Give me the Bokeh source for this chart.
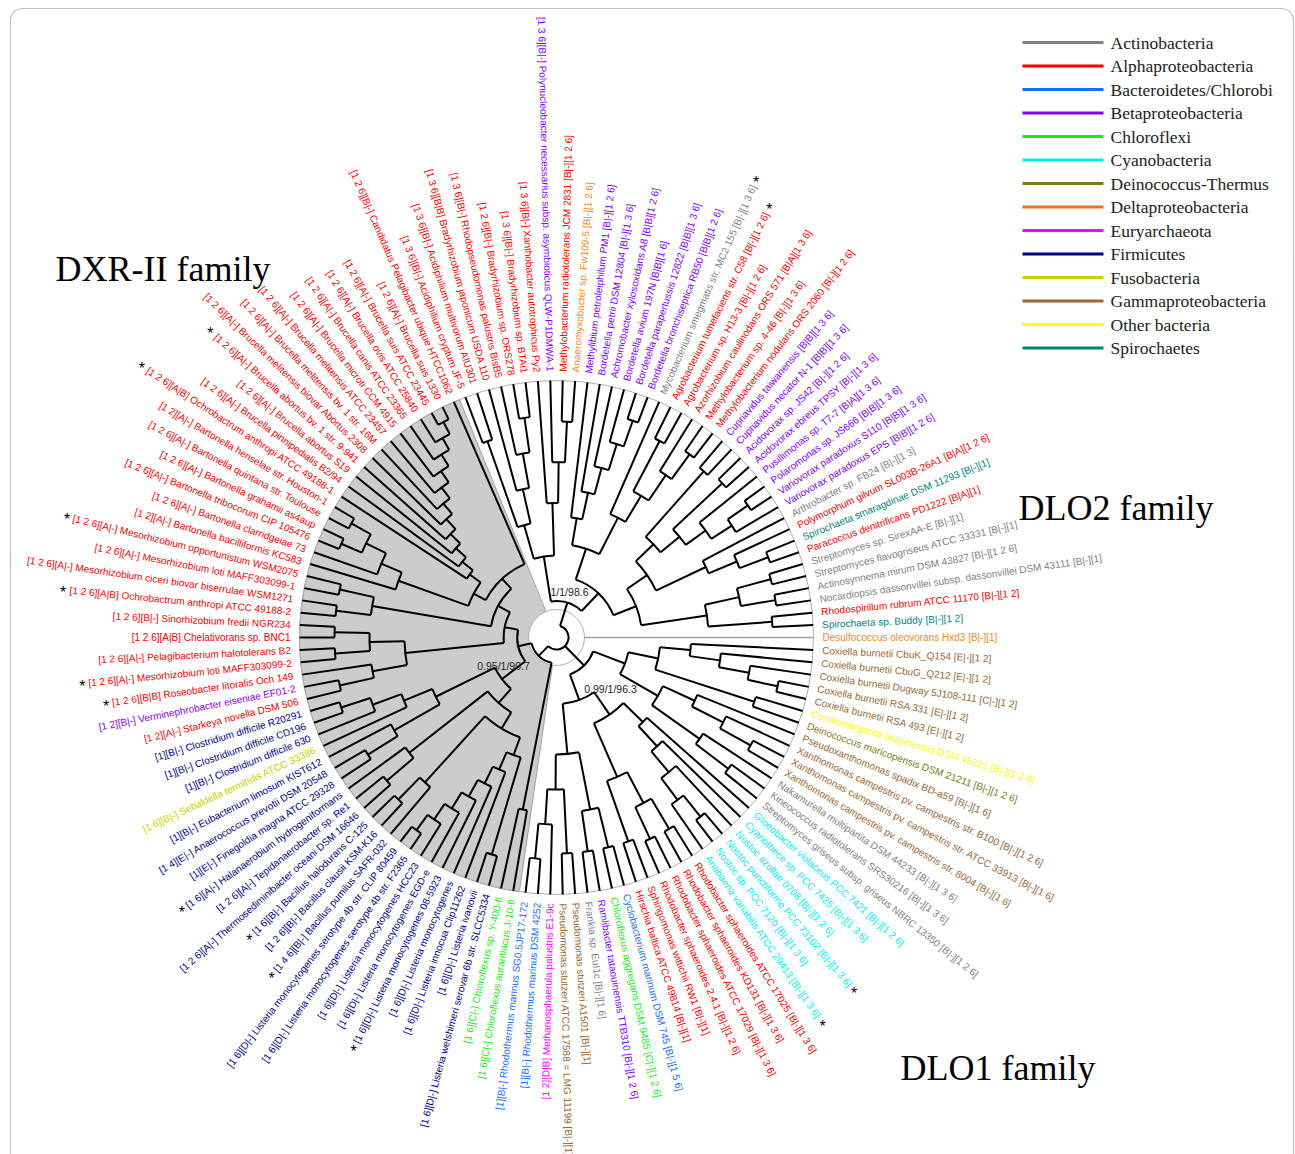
import math
from bokeh.plotting import figure
from bokeh.models import Range1d, BoxAnnotation
from bokeh.embed import file_html
from bokeh.resources import INLINE
from bokeh.core.properties import value

# ---------------- data ----------------
taxa = [
    # 1-10
    "Methylobacterium radiotolerans JCM 2831", "Anaeromyxobacter sp. Fw109-5", "Methylibium petroleiphilum PM1",
    "Bordetella petrii DSM 12804", "Achromobacter xylosoxidans A8", "Bordetella avium 197N",
    "Bordetella parapertussis 12822", "Bordetella bronchiseptica RB50", "Mycobacterium smegmatis str. MC2 155",
    "Agrobacterium tumefaciens str. C58",
    # 11-20
    "Agrobacterium sp. H13-3", "Azorhizobium caulinodans ORS 571", "Methylobacterium sp. 4-46",
    "Methylobacterium nodulans ORS 2060", "Cupriavidus taiwanensis", "Cupriavidus necator N-1",
    "Acidovorax sp. JS42", "Acidovorax ebreus TPSY", "Pusillimonas sp. T7-7", "Polaromonas sp. JS666",
    # 21-30
    "Variovorax paradoxus S110", "Variovorax paradoxus EPS", "Arthrobacter sp. FB24",
    "Polymorphum gilvum SL003B-26A1", "Spirochaeta smaragdinae DSM 11293", "Paracoccus denitrificans PD1222",
    "Streptomyces sp. SirexAA-E", "Streptomyces flavogriseus ATCC 33331", "Actinosynnema mirum DSM 43827",
    "Nocardiopsis dassonvillei subsp. dassonvillei DSM 43111",
    # 31-40
    "Rhodospirillum rubrum ATCC 11170", "Spirochaeta sp. Buddy", "Desulfococcus oleovorans Hxd3",
    "Coxiella burnetii CbuK_Q154", "Coxiella burnetii CbuG_Q212", "Coxiella burnetii Dugway 5J108-111",
    "Coxiella burnetii RSA 331", "Coxiella burnetii RSA 493", "Coraliomargarita akajimensis DSM 45221",
    "Deinococcus maricopensis DSM 21211",
    # 41-50
    "Pseudoxanthomonas spadix BD-a59", "Xanthomonas campestris pv. campestris str. B100",
    "Xanthomonas campestris pv. campestris str. ATCC 33913", "Xanthomonas campestris pv. campestris str. 8004",
    "Nakamurella multipartita DSM 44233", "Kineococcus radiotolerans SRS30216",
    "Streptomyces griseus subsp. griseus NBRC 13350", "Gloeobacter violaceus PCC 7421",
    "Cyanothece sp. PCC 7425", "Nostoc azollae 0708",
    # 51-60
    "Nostoc punctiforme PCC 73102", "Nostoc sp. PCC 7120", "Anabaena variabilis ATCC 29413",
    "Rhodobacter sphaeroides ATCC 17025", "Rhodobacter sphaeroides KD131", "Rhodobacter sphaeroides ATCC 17029",
    "Rhodobacter sphaeroides 2.4.1", "Sphingomonas wittichii RW1", "Hirschia baltica ATCC 49814",
    "Cyclobacterium marinum DSM 745",
    # 61-70
    "Chloroflexus aggregans DSM 9485", "Ramlibacter tataouinensis TTB310", "Frankia sp. EuI1c",
    "Pseudomonas stutzeri A1501", "Pseudomonas stutzeri ATCC 17588 = LMG 11199", "Methanosphaerula palustris E1-9c",
    "Rhodothermus marinus DSM 4252", "Rhodothermus marinus SG0.5JP17-172", "Chloroflexus aurantiacus J-10-fl",
    "Chloroflexus sp. Y-400-fl",
    # 71-80
    "Listeria welshimeri serovar 6b str. SLCC5334", "Listeria ivanovii", "Listeria innocua Clip11262",
    "Listeria monocytogenes", "Listeria monocytogenes 08-5923", "Listeria monocytogenes EGD-e",
    "Listeria monocytogenes HCC23", "Listeria monocytogenes serotype 4b str. F2365",
    "Listeria monocytogenes serotype 4b str. CLIP 80459", "Bacillus pumilus SAFR-032",
    # 81-90
    "Bacillus clausii KSM-K16", "Bacillus halodurans C-125", "Thermosediminibacter oceani DSM 16646",
    "Tepidanaerobacter sp. Re1", "Halanaerobium hydrogeniformans", "Finegoldia magna ATCC 29328",
    "Anaerococcus prevotii DSM 20548", "Eubacterium limosum KIST612", "Sebaldella termitidis ATCC 33386",
    "Clostridium difficile 630",
    # 91-100
    "Clostridium difficile CD196", "Clostridium difficile R20291", "Starkeya novella DSM 506",
    "Verminephrobacter eiseniae EF01-2", "Roseobacter litoralis Och 149", "Mesorhizobium loti MAFF303099-2",
    "Pelagibacterium halotolerans B2", "Chelativorans sp. BNC1", "Sinorhizobium fredii NGR234",
    "Ochrobactrum anthropi ATCC 49188-2",
    # 101-110
    "Mesorhizobium ciceri biovar biserrulae WSM1271", "Mesorhizobium loti MAFF303099-1",
    "Mesorhizobium opportunistum WSM2075", "Bartonella bacilliformis KC583", "Bartonella clarridgeiae 73",
    "Bartonella tribocorum CIP 105476", "Bartonella grahamii as4aup", "Bartonella quintana str. Toulouse",
    "Bartonella henselae str. Houston-1", "Ochrobactrum anthropi ATCC 49188-1",
    # 111-120
    "Brucella pinnipedialis B2/94", "Brucella abortus S19", "Brucella abortus bv. 1 str. 9-941",
    "Brucella melitensis biovar Abortus 2308", "Brucella melitensis bv. 1 str. 16M",
    "Brucella melitensis ATCC 23457", "Brucella microti CCM 4915", "Brucella canis ATCC 23365",
    "Brucella ovis ATCC 25840", "Brucella suis ATCC 23445",
    # 121-130
    "Brucella suis 1330", "Candidatus Pelagibacter ubique HTCC1062", "Acidiphilium cryptum JF-5",
    "Acidiphilium multivorum AIU301", "Bradyrhizobium japonicum USDA 110", "Rhodopseudomonas palustris BisB5",
    "Bradyrhizobium sp. ORS278", "Bradyrhizobium sp. BTAi1", "Xanthobacter autotrophicus Py2",
    "Polynucleobacter necessarius subsp. asymbioticus QLW-P1DMWA-1",
]

domains = (
    ["B|-", "B|-", "B|-", "B|-", "B|B", "B|B", "B|B", "B|B", "B|-", "B|-"] +
    ["B|-", "B|A", "B|-", "B|-", "B|B", "B|B", "B|-", "B|-", "B|A", "B|B"] +
    ["B|B", "B|B", "B|-", "B|A", "B|-", "B|A", "B|-", "B|-", "B|-", "B|-"] +
    ["B|-", "B|-", "B|-", "E|-", "E|-", "C|-", "E|-", "E|-", "B|-", "B|-"] +
    ["B|-"] * 10 +
    ["B|-"] * 10 +
    ["C|-", "B|-", "B|-", "B|-", "B|-", "D|B", "B|-", "B|-", "C|-", "C|-"] +
    ["D|-"] * 9 + ["B|-"] +
    ["B|-", "B|-", "A|-", "A|-", "A|-", "E|-", "E|-", "B|-", "B|-", "B|-"] +
    ["B|-", "B|-", "A|-", "B|-", "B|B", "A|-", "A|-", "A|B", "B|-", "A|B"] +
    ["A|-"] * 9 + ["A|B"] +
    ["A|-"] * 10 +
    ["A|-", "B|-", "B|-", "B|-", "B|B", "B|-", "B|-", "B|-", "B|-", "B|-"]
)

motifs = (
    ["1 2 6", "1 2 6", "1 2 6", "1 3 6", "1 2 6", "1 6", "1 3 6", "1 2 6", "1 3 6", "1 2 6"] +
    ["1 2 6", "1 3 6", "1 3 6", "1 2 6", "1 3 6", "1 3 6", "1 2 6", "1 3 6", "1 3 6", "1 3 6"] +
    ["1 3 6", "1 2 6", "1 3", "1 2 6", "1", "1", "1", "1", "1 2 6", "1"] +
    ["1 2", "1 2", "1", "1 2", "1 2", "1 2", "1 2", "1 2", "1 2 6", "1 2 6"] +
    ["1 6", "1 2 6", "1 6", "1 6", "1 3 6", "1 3 6", "1 2 6", "1 2 6", "1 3 6", "1 2 6"] +
    ["1 3 6", "1 3 6", "1 3 6", "1 3 6", "1 3 6", "1 3 6", "1 2 6", "1", "1", "1 5 6"] +
    ["1 2 6", "1 2 6", "1 6", "1", "1", "1 2", "1", "1", "1 6", "1 6"] +
    ["1 6"] * 9 + ["1 4 6"] +
    ["1 2 6", "1 6", "1 2 6", "1 2 6", "1 6", "1", "1 4", "1", "1 6", "1"] +
    ["1", "1", "1 2", "1 2", "1 2 6", "1 2 6", "1 2 6", "1 2 6", "1 2 6", "1 2 6"] +
    ["1 2 6", "1 2 6", "1 2 6", "1 2", "1 2 6", "1 2 6", "1 2 6", "1 2 6", "1 2", "1 2 6"] +
    ["1 2 6"] * 10 +
    ["1 2 6", "1 2 6", "1 3 6", "1 3 6", "1 3 6", "1 3 6", "1 2 6", "1 3 6", "1 3 6", "1 3 6"]
)

phyla = (
    ["Alp", "Del", "Bet", "Bet", "Bet", "Bet", "Bet", "Bet", "Act", "Alp"] +
    ["Alp", "Alp", "Alp", "Alp", "Bet", "Bet", "Bet", "Bet", "Bet", "Bet"] +
    ["Bet", "Bet", "Act", "Alp", "Spi", "Alp", "Act", "Act", "Act", "Act"] +
    ["Alp", "Spi", "Del", "Gam", "Gam", "Gam", "Gam", "Gam", "Oth", "Dei"] +
    ["Gam", "Gam", "Gam", "Gam", "Act", "Act", "Act", "Cya", "Cya", "Cya"] +
    ["Cya", "Cya", "Cya", "Alp", "Alp", "Alp", "Alp", "Alp", "Alp", "Bac"] +
    ["Chl", "Bet", "Act", "Gam", "Gam", "Eur", "Bac", "Bac", "Chl", "Chl"] +
    ["Fir"] * 10 +
    ["Fir"] * 8 + ["Fus", "Fir"] +
    ["Fir", "Fir", "Alp", "Bet", "Alp", "Alp", "Alp", "Alp", "Alp", "Alp"] +
    ["Alp"] * 10 +
    ["Alp"] * 10 +
    ["Alp"] * 9 + ["Bet"]
)

starred = [9, 10, 51, 53, 75, 80, 82, 85, 95, 96, 100, 103, 110, 113]

legend_keys = ["Act", "Alp", "Bac", "Bet", "Chl", "Cya", "Dei", "Del", "Eur", "Fir", "Fus", "Gam", "Oth", "Spi"]
legend_names = ["Actinobacteria", "Alphaproteobacteria", "Bacteroidetes/Chlorobi", "Betaproteobacteria",
                "Chloroflexi", "Cyanobacteria", "Deinococcus-Thermus", "Deltaproteobacteria", "Euryarchaeota",
                "Firmicutes", "Fusobacteria", "Gammaproteobacteria", "Other bacteria", "Spirochaetes"]
legend_colors = ["#808080", "#ff0000", "#1a6ef5", "#8000ff", "#1ee61e", "#00f0f0", "#7a7a14",
                 "#e8741c", "#ff00ff", "#000080", "#cccc00", "#996633", "#ffff00", "#008080"]
label_color = dict(zip(legend_keys, legend_colors))
label_color["Del"] = "#f58a1e"

family_names = ["DXR-II family", "DLO2 family", "DLO1 family"]
support_values = ["1/1/98.6", "0.95/1/90.7", "0.99/1/96.3"]

# tree topology (leaf numbers)
listeria = [[71, 72], [73, [74, [75, [76, [77, [78, 79]]]]]]]
bacillus = [80, [81, 82]]
firm = [[[listeria, bacillus], [[83, 84], 85]], [[[86, 87], 88], [89, [90, [91, 92]]]]]
barton = [104, [105, [[106, 107], [108, 109]]]]
brucella = [110, [111, [112, [113, [114, [115, [116, [117, [118, [119, [120, 121]]]]]]]]]]]
alpha = [[[[93, 94], 95], [[96, 97], [98, 99]]], [[[100, 101], [102, 103]], [[barton, brucella], 122]]]
dxr = [[69, 70], [firm, alpha]]
dlo2 = [[[[123, 124], [125, [126, [127, 128]]]], [129, [130, [1, 2]]]],
        [[[3, [4, [5, [6, [7, 8]]]]], [9, [[10, 11], [12, [13, 14]]]]],
         [[[[15, 16], [[17, 18], [19, [[20, 21], 22]]]], [23, [24, [25, 26]]]],
          [[[27, 28], [29, 30]], [31, 32]]]]]
dlo1 = [[[[34, [35, [36, [37, 38]]]], [39, 40]], [[41, [42, [43, 44]]], [45, [46, 47]]]],
        [[[48, [49, [50, [[51, 52], 53]]]], [[[54, 55], [56, 57]], [58, 59]]],
         [[[60, 61], [62, 63]], [[64, 65], [66, [67, 68]]]]]]
tree = [dlo2, 33, dlo1, dxr]
shaded_first, shaded_last = 69, 122
wrap_start = 123
gray_leaf = 33

# ---------------- layout ----------------
N = len(taxa)
assert len(domains) == N and len(motifs) == N and len(phyla) == N
W, H = 1295, 1154
CX, CY = 556, H - 637
R_TIP, R_LAB, R_ROOT, R_CORE = 257, 266, 12, 28
STEP = 360.0 / N

def leaf_angle(i):
    d = 90.0 - (i - 0.5) * STEP
    if i >= wrap_start:
        d += 360.0
    return math.radians(d)

def height(n):
    return 0 if isinstance(n, int) else 1 + max(height(c) for c in n)

arcs, segs, gsegs = [], [], []

def place(n, depth):
    if isinstance(n, int):
        return leaf_angle(n), R_TIP
    h = height(n)
    r = R_ROOT + (R_TIP - R_ROOT) * depth / (depth + h)
    kids = [(c, place(c, depth + 1)) for c in n]
    angs = [k[1][0] for k in kids]
    arcs.append((r, min(angs), max(angs)))
    for c, (ca, cr) in kids:
        if c == gray_leaf:
            gsegs.append((ca, R_CORE, cr))
        else:
            segs.append((ca, r, cr))
    return (min(angs) + max(angs)) / 2, r

place(tree, 0)

AW = {' ': 278, '-': 333, '.': 278, '/': 278, '[': 278, ']': 278, '|': 260, '_': 556, '=': 584,
      'A': 667, 'B': 667, 'C': 722, 'D': 722, 'E': 667, 'F': 611, 'G': 778, 'H': 722, 'I': 278, 'J': 500,
      'K': 667, 'L': 556, 'M': 833, 'N': 722, 'O': 778, 'P': 667, 'Q': 778, 'R': 722, 'S': 667, 'T': 611,
      'U': 722, 'V': 667, 'W': 944, 'X': 667, 'Y': 667, 'Z': 611,
      'a': 556, 'b': 556, 'c': 500, 'd': 556, 'e': 556, 'f': 278, 'g': 556, 'h': 556, 'i': 222, 'j': 222,
      'k': 500, 'l': 222, 'm': 833, 'n': 556, 'o': 556, 'p': 556, 'q': 556, 'r': 333, 's': 500, 't': 278,
      'u': 556, 'v': 500, 'w': 722, 'x': 500, 'y': 500, 'z': 500}
FS = 10.0

def text_w(s):
    return sum(AW.get(ch, 556) for ch in s) * FS / 1000.0

p = figure(width=W, height=H, x_range=Range1d(0, W), y_range=Range1d(0, H),
           output_backend="svg", toolbar_location=None, min_border=0,
           x_axis_location=None, y_axis_location=None)
p.grid.visible = False
p.outline_line_color = None
p.background_fill_color = "white"

# shaded clade wedge
a0 = leaf_angle(shaded_first) + math.radians(STEP / 2)
a1 = leaf_angle(shaded_last) - math.radians(STEP / 2)
px, py = [CX], [CY]
for k in range(241):
    a = a0 + (a1 - a0) * k / 240
    px.append(CX + R_TIP * math.cos(a))
    py.append(CY + R_TIP * math.sin(a))
p.patch(px, py, fill_color="#cccccc", line_color="#a0a0a0", line_width=1)

# tip circle and core circle
p.circle(x=[CX], y=[CY], radius=R_TIP, fill_color=None, line_color="#b0b0b0", line_width=1)
p.circle(x=[CX], y=[CY], radius=R_CORE, fill_color="white", line_color="#b0b0b0", line_width=1)

# tree branches
p.arc(x=[CX] * len(arcs), y=[CY] * len(arcs), radius=[a[0] for a in arcs],
      start_angle=[a[1] for a in arcs], end_angle=[a[2] for a in arcs],
      direction="anticlock", line_color="black", line_width=2)
p.segment(x0=[CX + r0 * math.cos(a) for a, r0, r1 in segs], y0=[CY + r0 * math.sin(a) for a, r0, r1 in segs],
          x1=[CX + r1 * math.cos(a) for a, r0, r1 in segs], y1=[CY + r1 * math.sin(a) for a, r0, r1 in segs],
          line_color="black", line_width=2)
p.segment(x0=[CX + r0 * math.cos(a) for a, r0, r1 in gsegs], y0=[CY + r0 * math.sin(a) for a, r0, r1 in gsegs],
          x1=[CX + r1 * math.cos(a) for a, r0, r1 in gsegs], y1=[CY + r1 * math.sin(a) for a, r0, r1 in gsegs],
          line_color="#a0a0a0", line_width=1.5)

# tip labels
R = dict(x=[], y=[], t=[], a=[], c=[])
L = dict(x=[], y=[], t=[], a=[], c=[])
sx, sy = [], []
for i in range(1, N + 1):
    a = leaf_angle(i)
    name, dom, mot, ph = taxa[i - 1], domains[i - 1], motifs[i - 1], phyla[i - 1]
    xx, yy = CX + R_LAB * math.cos(a), CY + R_LAB * math.sin(a)
    if math.cos(a) >= 0:
        s = f"{name} [{dom}][{mot}]"
        d = R
        d["a"].append(a)
    else:
        s = f"[{mot}][{dom}] {name}"
        d = L
        d["a"].append(a - math.pi)
    d["x"].append(xx); d["y"].append(yy); d["t"].append(s); d["c"].append(label_color[ph])
    if i in starred:
        rs = R_LAB + text_w(s) + 6
        sx.append(CX + rs * math.cos(a)); sy.append(CY + rs * math.sin(a))

p.text(x=R["x"], y=R["y"], text=R["t"], angle=R["a"], text_color=R["c"], text_align="left",
       text_baseline="middle", text_font=value("Liberation Sans"), text_font_size="10px")
p.text(x=L["x"], y=L["y"], text=L["t"], angle=L["a"], text_color=L["c"], text_align="right",
       text_baseline="middle", text_font=value("Liberation Sans"), text_font_size="10px")
p.text(x=sx, y=[v - 3 for v in sy], text=["*"] * len(sx), text_color="black", text_align="center",
       text_baseline="middle", text_font=value("Liberation Sans"), text_font_size="16px")

# support values
sup_x = [569, 503, 610]
sup_y = [H - 591, H - 665, H - 688]
p.text(x=sup_x, y=sup_y, text=support_values, text_color="#222222", text_align="center",
       text_baseline="middle", text_font=value("Liberation Sans"), text_font_size="10.5px")

# family labels
p.text(x=[55, 1018, 900], y=[H - 268, H - 507, H - 1067], text=family_names,
       text_color="black", text_align="left", text_baseline="alphabetic",
       text_font=value("Liberation Serif"), text_font_size="36px")

# legend
ly = [H - (42 + 23.5 * k) for k in range(len(legend_names))]
p.segment(x0=[1022] * len(ly), y0=ly, x1=[1103] * len(ly), y1=ly, line_color=legend_colors, line_width=3)
p.text(x=[1110] * len(ly), y=ly, text=legend_names, text_color="#222222", text_align="left",
       text_baseline="middle", text_font=value("Liberation Serif"), text_font_size="17.5px")

# frame
p.add_layout(BoxAnnotation(left=10, right=1293, bottom=-30, top=H - 8, border_radius=12,
                           fill_alpha=0, line_color="#333333", line_width=1.2))

open("out.html", "w").write(file_html(p, INLINE))
